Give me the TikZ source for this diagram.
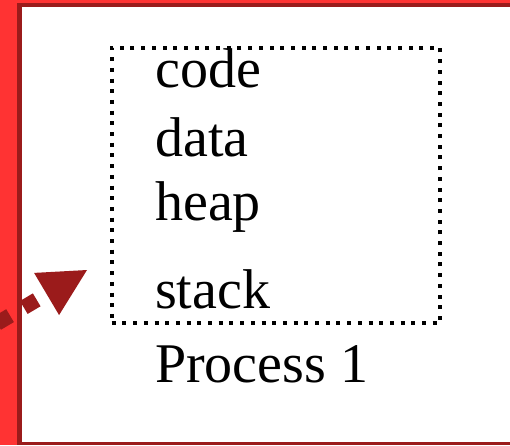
\documentclass[tikz,border=0pt]{standalone}
\usepackage{fontspec}
\setmainfont{Liberation Serif}
\usetikzlibrary{arrows.meta}
\definecolor{brightred}{RGB}{255,51,51}
\definecolor{darkred}{RGB}{155,27,27}
\begin{document}
\begin{tikzpicture}[x=1pt,y=-1pt,
  label/.style={anchor=base west,inner sep=0pt,font=\fontsize{56}{60}\selectfont},
  region/.style={draw,line width=4pt,dash pattern=on 4pt off 6.7pt,inner sep=0pt},
  flow/.style={draw=darkred,line width=15pt,dash pattern=on 15pt off 16pt,dash phase=16.5pt,
    -{Triangle[length=47pt 0 0,width=49pt 0 0,line width=0pt 0 0,fill=darkred]}}]
\useasboundingbox (0,0) rectangle (510,445);
\clip (0,0) rectangle (510,445);
% page frame: outer red band and darker inner border
\fill[white] (0,0) rectangle (510,445);
\fill[brightred] (0,0) rectangle (17,445);
\fill[brightred] (0,0) rectangle (510,2.5);
\fill[darkred] (17,2.5) rectangle (22,445);
\fill[darkred] (17,2.5) rectangle (510,7);
\fill[darkred] (17,441.5) rectangle (510,445);
% process memory layout
\node[region,minimum width=328.3pt,minimum height=275.6pt] (box) at (275.85,185.5) {};
\node[label] (code) at (155,87) {code};
\node[label] (data) at (155,156) {data};
\node[label] (heap) at (155,220) {heap};
\node[label] (stack) at (155,308) {stack};
\node[label] (proc) at (155,382) {Process 1};
% incoming arrow
\coordinate (src) at (-42,346.5);
\coordinate (tip) at (87,270);
\draw[flow] (src) -- (tip);
\end{tikzpicture}
\end{document}
